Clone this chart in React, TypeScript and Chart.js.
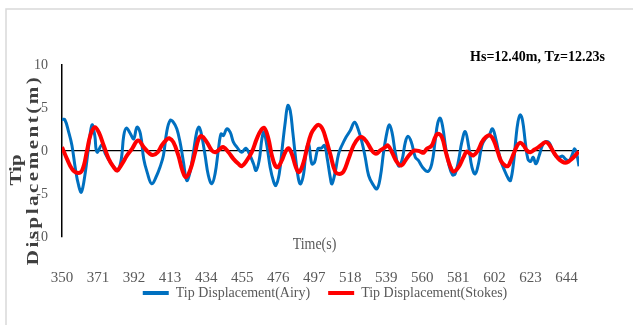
import React, { useEffect, useRef } from 'react';
import { Chart, registerables } from 'chart.js';

Chart.register(...registerables);

const FONT = "'Liberation Serif', 'Times New Roman', serif";

const CHART_TITLE = 'Hs=12.40m, Tz=12.23s';
const X_TITLE = 'Time(s)';
const Y_TITLE = ['Tip', 'Displacement(m)'];
const SERIES_NAMES = ['Tip Displacement(Airy)', 'Tip Displacement(Stokes)'];
const TIME_TICKS = [350, 371, 392, 413, 434, 455, 476, 497, 518, 539, 560, 581, 602, 623, 644];
const Y_MIN = -10;
const Y_MAX = 10;
const Y_STEP = 5;
const X_MIN = 350;
const X_MAX = 651.3;

const TIME_AIRY = [
  350.0, 351.6, 353.9, 355.8, 357.8, 359.7, 361.3, 363.6, 365.6, 367.5, 369.1, 370.4, 373.3, 375.3, 378.2,
  381.1, 382.7, 384.6, 386.0, 387.5, 389.9, 391.8, 393.7, 395.7, 397.6, 399.6, 402.3, 405.2, 407.1, 409.1,
  411.0, 413.0, 414.9, 416.9, 418.8, 420.8, 422.7, 424.6, 426.6, 428.5, 429.9, 431.4, 433.4, 435.3, 437.3,
  439.2, 441.2, 442.7, 444.1, 446.0, 448.0, 449.9, 451.9, 454.8, 457.1, 459.6, 461.6, 463.1, 464.9, 466.5,
  467.6, 469.4, 471.3, 473.3, 474.6, 476.6, 478.5, 480.1, 481.6, 483.0, 484.5, 486.3, 487.8, 489.0, 490.8,
  492.3, 493.7, 495.6, 497.2, 499.1, 501.1, 503.0, 504.6, 506.3, 507.3, 509.2, 511.2, 513.1, 515.5, 518.0,
  520.5, 522.5, 524.8, 526.7, 528.7, 531.0, 533.5, 535.5, 537.4, 539.4, 540.7, 542.3, 544.2, 546.2, 548.1,
  550.1, 551.6, 553.6, 555.9, 557.7, 560.1, 563.2, 565.5, 567.5, 569.0, 570.4, 571.9, 573.7, 575.6, 577.6,
  579.1, 581.1, 583.0, 585.0, 586.9, 588.9, 590.8, 592.7, 594.7, 597.0, 599.0, 600.9, 602.8, 605.4, 607.9,
  610.2, 611.4, 613.2, 614.5, 615.7, 617.0, 618.4, 620.0, 621.5, 623.1, 624.6, 626.2, 628.1, 630.1, 632.0,
  634.0, 635.9, 637.8, 639.8, 641.7, 643.7, 645.6, 647.2, 648.7, 650.1, 651.3,
];
const AIRY = [
  3.66, 3.66, 2.19, 0.64, -2.07, -4.01, -4.79, -2.46, 0.64, 3.04, 1.8, -0.14, 0.72, -0.33, -1.3,
  -2.07, -2.27, -0.91, 1.8, 2.66, 2.0, 1.41, 2.77, 2.0, -0.91, -2.46, -3.82, -2.85, -1.88, -0.52,
  2.19, 3.55, 3.35, 2.58, 1.03, -1.3, -3.43, -2.46, -0.14, 2.19, 2.77, 1.8, -0.52, -2.85, -3.82,
  -2.66, 0.25, 2.0, 1.8, 2.58, 2.19, 1.03, 0.45, -0.14, 0.33, -0.52, -1.49, -2.27, -1.1, 1.41,
  2.19, 0.64, -1.88, -3.55, -4.01, -2.66, 0.64, 3.35, 5.29, 4.71, 2.19, -1.1, -3.24, -3.82, -2.66,
  0.06, 0.83, -1.49, -1.3, 0.25, 0.33, 0.64, -0.91, -3.04, -3.82, -2.46, -0.33, 0.64, 1.61, 2.38,
  3.35, 2.58, 1.03, -0.72, -2.85, -3.82, -4.4, -3.04, -0.14, 2.19, 3.04, 2.19, -0.14, -1.76, -1.1,
  1.03, 1.72, 1.03, -0.72, -1.1, -1.88, -2.38, -1.49, 1.22, 3.27, 3.82, 2.77, 0.25, -1.69, -2.77,
  -2.66, -1.1, 1.03, 2.27, 0.64, -1.88, -2.66, -1.49, 0.64, 1.49, 1.88, 2.58, 1.41, -0.91, -2.27,
  -3.24, -3.43, -1.3, 1.41, 3.35, 4.21, 3.55, 1.03, -0.91, -1.22, -0.72, -1.49, -0.52, 0.72, 1.1,
  0.95, 0.06, -0.6, -0.72, -0.6, -0.99, -1.1, -0.52, 0.25, -0.45, -1.76,
];

const TIME_STOKES = [
  350.0, 352.9, 355.8, 358.7, 361.7, 364.6, 366.5, 369.1, 371.4, 374.3, 377.2, 380.1, 382.1, 385.0, 387.9,
  390.8, 394.3, 397.6, 401.3, 403.3, 405.8, 408.1, 411.0, 412.4, 414.9, 417.8, 420.2, 422.1, 424.6, 427.6,
  429.5, 431.4, 434.4, 437.3, 439.6, 442.1, 444.1, 447.0, 449.9, 452.8, 454.8, 457.7, 460.6, 463.5, 466.1,
  468.0, 470.3, 472.3, 474.2, 475.8, 478.1, 480.1, 482.0, 483.9, 486.3, 488.2, 490.8, 492.7, 495.2, 497.6,
  499.5, 501.8, 503.8, 506.3, 509.2, 511.6, 514.1, 517.0, 519.9, 522.8, 524.8, 527.7, 530.6, 533.0, 535.5,
  538.4, 540.0, 542.3, 545.2, 547.7, 550.1, 553.0, 555.5, 558.7, 560.7, 562.6, 565.5, 567.5, 569.0, 571.4,
  573.7, 576.2, 578.2, 581.1, 584.0, 585.9, 587.9, 589.8, 592.4, 594.7, 597.0, 599.5, 601.9, 604.0, 606.0,
  608.3, 609.9, 611.2, 613.2, 615.1, 617.0, 619.0, 620.9, 622.9, 625.4, 627.7, 630.1, 632.0, 634.0, 636.5,
  639.0, 641.4, 643.3, 645.3, 647.2, 649.1, 651.1,
];
const STOKES = [
  0.45, -0.91, -2.07, -2.54, -2.27, 0.06, 1.8, 2.77, 2.19, 0.64, -0.91, -1.88, -2.27, -1.49, -0.52,
  0.25, 1.22, 0.45, -0.33, -0.45, -0.14, 0.64, 1.34, 1.49, 1.03, -0.52, -2.27, -3.04, -2.27, -0.14,
  1.34, 1.72, 1.03, 0.06, -0.14, 0.25, 0.45, -0.14, -0.91, -1.49, -1.76, -1.1, -0.14, 1.41, 2.46,
  2.66, 1.41, -0.52, -1.69, -1.88, -1.1, -0.14, 0.33, -0.33, -1.88, -2.46, -1.3, 0.25, 2.0, 2.77,
  3.04, 2.58, 1.41, -0.33, -2.38, -2.66, -2.38, -0.91, 0.64, 1.49, 1.61, 1.03, 0.06, -0.33, 0.06,
  0.45, 0.64, -0.14, -1.3, -1.69, -1.1, -0.33, 0.06, -0.06, -0.21, 0.25, 0.64, 1.61, 2.0, 1.61,
  -0.14, -1.76, -2.38, -1.88, -0.72, -0.06, -0.33, -0.52, 0.06, 1.03, 1.61, 1.8, 1.1, -0.14, -1.22,
  -1.69, -1.76, -1.3, -0.33, 0.56, 0.95, 0.64, 0.06, -0.14, 0.17, 0.45, 0.83, 1.03, 0.72, -0.14,
  -0.83, -1.22, -1.38, -1.22, -0.91, -0.52, -0.06,
];

const decorPlugin = {
  id: 'decor',
  beforeDraw(chart: any) {
    const { ctx } = chart;
    ctx.save();
    ctx.strokeStyle = '#d9d9d9';
    ctx.lineWidth = 1.5;
    ctx.strokeRect(6, 9, 700, 400);
    ctx.restore();
  },
  afterDraw(chart: any) {
    const { ctx, chartArea } = chart;
    // chart title (top right)
    ctx.save();
    ctx.fillStyle = '#000000';
    ctx.font = `bold 14px ${FONT}`;
    ctx.textAlign = 'right';
    ctx.textBaseline = 'middle';
    ctx.fillText(CHART_TITLE, 605, chartArea.top - 8);
    ctx.restore();
    // x axis title
    ctx.save();
    ctx.fillStyle = '#595959';
    ctx.font = `17px ${FONT}`;
    ctx.textAlign = 'center';
    ctx.textBaseline = 'middle';
    ctx.translate((chartArea.left + chartArea.right) / 2 - 6, chartArea.bottom + 8);
    ctx.scale(0.82, 1);
    ctx.fillText(X_TITLE, 0, 0);
    ctx.restore();
    // y axis title (two lines, rotated)
    ctx.save();
    ctx.translate(17, (chartArea.top + chartArea.bottom) / 2 + 19);
    ctx.rotate(-Math.PI / 2);
    ctx.scale(1, 0.78);
    ctx.font = `bold 21px ${FONT}`;
    ctx.fillStyle = '#404040';
    ctx.textAlign = 'center';
    ctx.textBaseline = 'middle';
    (ctx as any).letterSpacing = '0px';
    ctx.fillText(Y_TITLE[0], 0, 0);
    (ctx as any).letterSpacing = '2.5px';
    ctx.fillText(Y_TITLE[1], 0, 22);
    ctx.restore();
  },
};

export default function App() {
  const canvasRef = useRef<HTMLCanvasElement | null>(null);

  useEffect(() => {
    document.body.style.margin = '0';
    const canvas = canvasRef.current;
    if (!canvas) return;
    const legendDefaults: any = (Chart.defaults as any).plugins.legend.labels;
    const chart = new Chart(canvas, {
      type: 'line',
      data: {
        datasets: [
          {
            label: SERIES_NAMES[0],
            data: TIME_AIRY.map((t, i) => ({ x: t, y: AIRY[i] })),
            borderColor: '#0070C0',
            backgroundColor: '#0070C0',
            borderWidth: 3,
            pointRadius: 0,
            tension: 0.4,
            order: 2,
          },
          {
            label: SERIES_NAMES[1],
            data: TIME_STOKES.map((t, i) => ({ x: t, y: STOKES[i] })),
            borderColor: '#FF0000',
            backgroundColor: '#FF0000',
            borderWidth: 4,
            pointRadius: 0,
            tension: 0.4,
            order: 1,
          },
        ],
      },
      options: {
        animation: false,
        responsive: false,
        events: [],
        layout: { padding: { top: 65, left: 17, right: 0, bottom: 15 } },
        plugins: {
          tooltip: { enabled: false },
          title: { display: false },
          legend: {
            position: 'bottom',
            labels: {
              boxWidth: 26,
              boxHeight: 4,
              padding: 18,
              color: '#595959',
              font: { family: FONT, size: 14 },
              sort: (a: any, b: any) => a.datasetIndex - b.datasetIndex,
              generateLabels: (c: any) =>
                legendDefaults.generateLabels(c).map((l: any) => ({ ...l, lineWidth: 0 })),
            },
          },
        },
        scales: {
          x: {
            type: 'linear',
            min: X_MIN,
            max: X_MAX,
            afterBuildTicks: (s: any) => {
              s.ticks = TIME_TICKS.map((v) => ({ value: v }));
            },
            afterFit: (s: any) => {
              s.height = 31;
            },
            ticks: {
              mirror: true,
              padding: -50,
              color: '#595959',
              font: { family: FONT, size: 15 },
              maxRotation: 0,
              autoSkip: false,
            },
            grid: { display: false, drawTicks: false },
            border: { display: false },
          },
          y: {
            position: 'left',
            min: Y_MIN,
            max: Y_MAX,
            afterFit: (s: any) => {
              s.width = 45;
            },
            ticks: {
              stepSize: Y_STEP,
              padding: 14,
              color: '#595959',
              font: { family: FONT, size: 14 },
            },
            grid: {
              drawTicks: false,
              color: (c: any) => (c.tick && c.tick.value === 0 ? '#000000' : 'rgba(0,0,0,0)'),
              lineWidth: 1.2,
            },
            border: { display: true, color: '#000000', width: 1.5 },
          },
          yR: {
            position: 'right',
            afterFit: (s: any) => {
              s.width = 54;
            },
            ticks: { display: false },
            grid: { display: false, drawTicks: false },
            border: { display: false },
          },
        },
      } as any,
      plugins: [decorPlugin],
    });
    return () => chart.destroy();
  }, []);

  return (
    <div style={{ width: 633, height: 325 }}>
      <canvas ref={canvasRef} width={633} height={325} />
    </div>
  );
}
